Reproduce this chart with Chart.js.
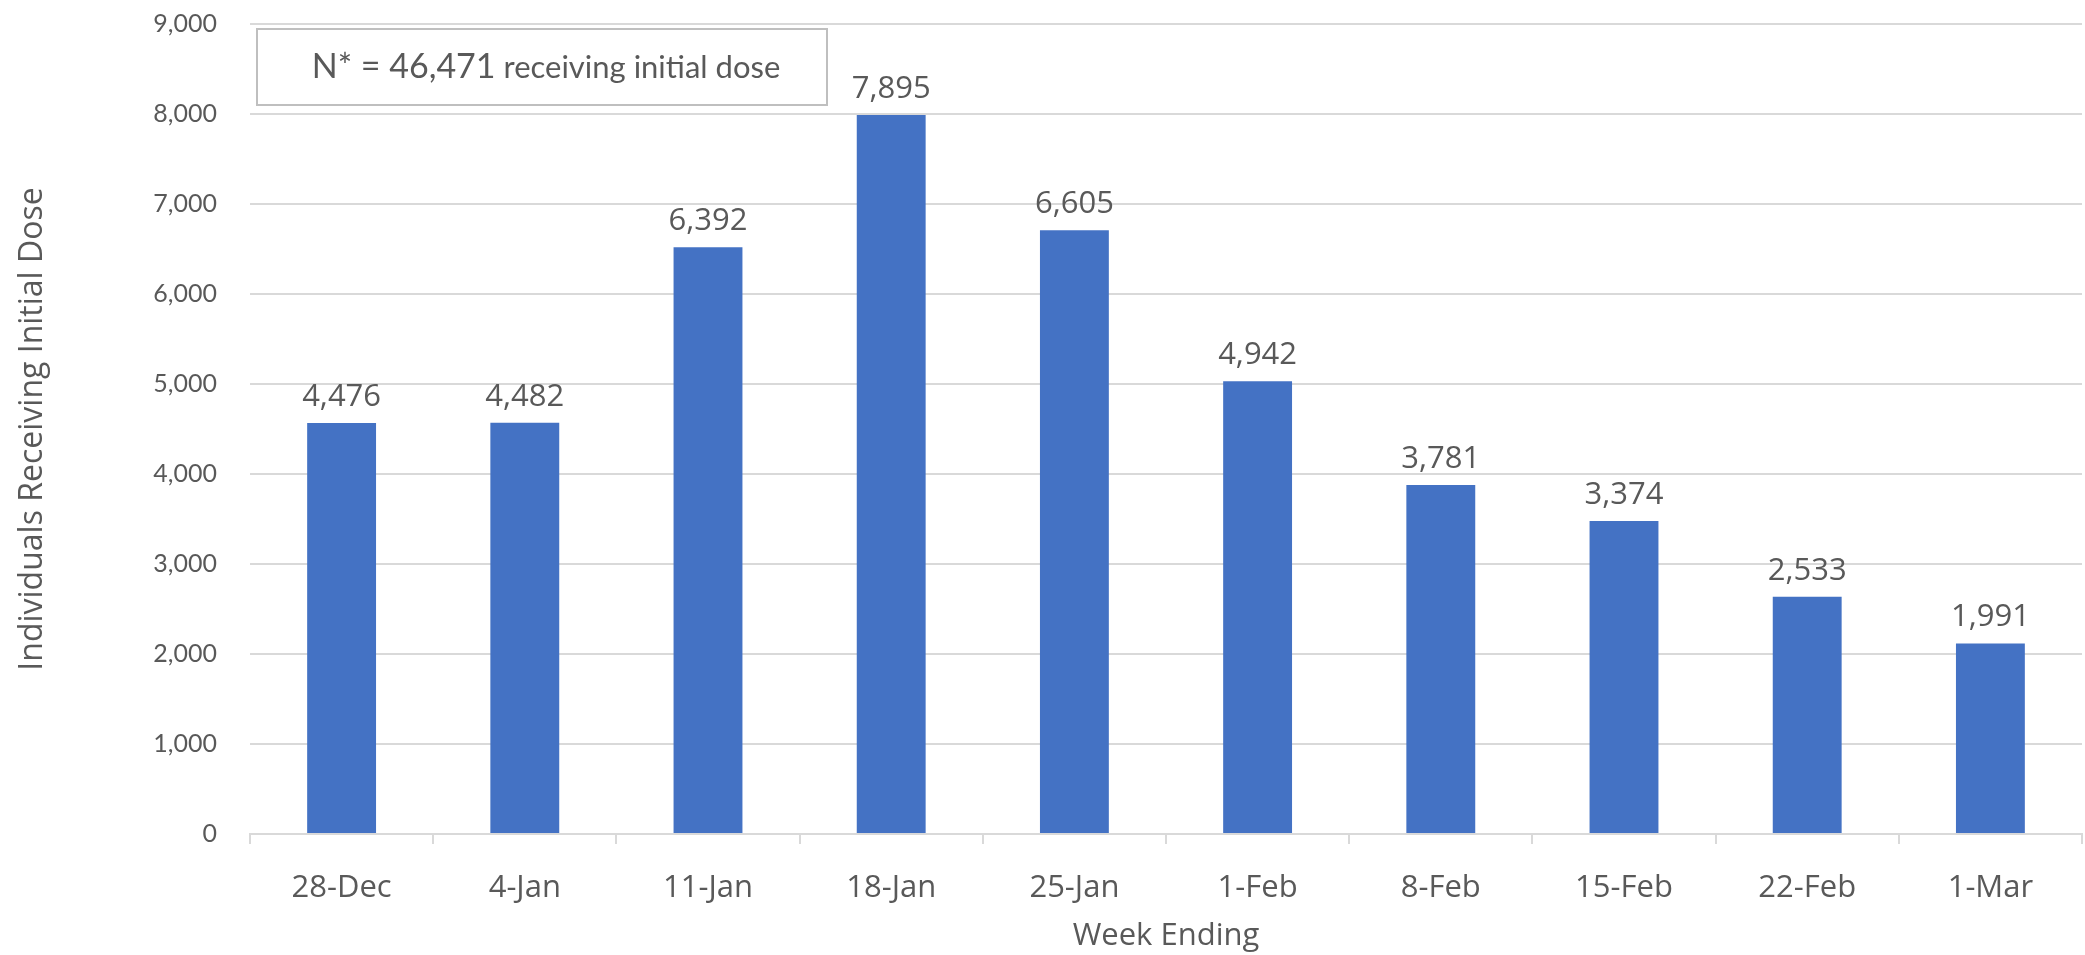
<!DOCTYPE html>
<html lang="en">
<head>
<meta charset="UTF-8">
<title>Individuals Receiving Initial Dose by Week</title>
<script src="https://cdn.jsdelivr.net/npm/chart.js"></script>
<style>
    html, body { margin: 0; padding: 0; background: #ffffff; }
    #wrap { width: 2085px; height: 955px; }
</style>
</head>
<body>
<div id="wrap"><canvas id="doseChart" width="2085" height="955"></canvas></div>

<script>
    // week ending categories
    const weeks = ['28-Dec', '4-Jan', '11-Jan', '18-Jan', '25-Jan', '1-Feb', '8-Feb', '15-Feb', '22-Feb', '1-Mar'];
    // values printed above the bars
    const doseLabels = [4476, 4482, 6392, 7895, 6605, 4942, 3781, 3374, 2533, 1991];
    // bar heights as drawn in the source (they stand a bit above the printed numbers)
    const barHeights = [4567, 4570, 6519, 7989, 6707, 5030, 3878, 3478, 2637, 2118];
    // y axis range / step
    const yMin = 0;
    const yMax = 9000;
    const yStep = 1000;
    // note box text
    const noteMain = 'N* = 46,471';
    const noteRest = ' receiving initial dose';

    const textGray = '#595959';
    const gridGray = '#d9d9d9';
    const barBlue = '#4472c4';

    // draws the number above each bar
    const barLabelPlugin = {
        id: 'barLabels',
        afterDatasetsDraw(chart) {
            const ctx = chart.ctx;
            const meta = chart.getDatasetMeta(0);
            ctx.save();
            ctx.font = '31px "Open Sans"';
            ctx.fillStyle = textGray;
            ctx.textAlign = 'center';
            ctx.textBaseline = 'alphabetic';
            meta.data.forEach((bar, i) => {
                ctx.fillText(doseLabels[i].toLocaleString('en-US'), bar.x, bar.y - 17);
            });
            ctx.restore();
        }
    };

    // the "N* = ..." box in the top left corner
    const noteBoxPlugin = {
        id: 'noteBox',
        afterDraw(chart) {
            const ctx = chart.ctx;
            const area = chart.chartArea;
            const x = area.left + 7;
            const y = area.top + 5;
            const w = 570;
            const h = 76;
            ctx.save();
            ctx.fillStyle = '#ffffff';
            ctx.fillRect(x, y, w, h);
            ctx.strokeStyle = '#bfbfbf';
            ctx.lineWidth = 2;
            ctx.strokeRect(x, y, w, h);

            ctx.fillStyle = textGray;
            ctx.textBaseline = 'middle';
            ctx.textAlign = 'left';
            ctx.font = '34px Lato';
            const w1 = ctx.measureText(noteMain).width;
            ctx.font = '31px Lato';
            const w2 = ctx.measureText(noteRest).width;
            let tx = x + (w - w1 - w2) / 2 + 4;
            ctx.font = '34px Lato';
            ctx.fillText(noteMain, tx, y + h / 2);
            ctx.font = '31px Lato';
            ctx.fillText(noteRest, tx + w1, y + h / 2 + 1);
            ctx.restore();
        }
    };

    const ctx = document.getElementById('doseChart').getContext('2d');
    const doseChart = new Chart(ctx, {
        type: 'bar',
        data: {
            labels: weeks,
            datasets: [{
                label: 'Individuals Receiving Initial Dose',
                data: barHeights,
                backgroundColor: barBlue,
                borderWidth: 0,
                categoryPercentage: 1.0,
                barPercentage: 0.376
            }]
        },
        options: {
            responsive: false,
            devicePixelRatio: 1,
            animation: false,
            layout: {
                padding: { top: 24, right: 3, left: 0, bottom: 0 }
            },
            plugins: {
                legend: { display: false },
                tooltip: { enabled: false }
            },
            scales: {
                x: {
                    z: 1,
                    grid: {
                        display: true,
                        offset: true,
                        drawOnChartArea: false,
                        tickLength: 10,
                        color: gridGray,
                        lineWidth: 2
                    },
                    border: { display: true, color: gridGray, width: 2 },
                    ticks: {
                        color: textGray,
                        font: { family: 'Open Sans', size: 31 },
                        padding: 26,
                        maxRotation: 0,
                        autoSkip: false
                    },
                    title: {
                        display: true,
                        text: 'Week Ending',
                        color: textGray,
                        font: { family: 'Open Sans', size: 31 },
                        padding: { top: 0, bottom: 0 }
                    },
                    afterFit: (scale) => { scale.height = 121; }
                },
                y: {
                    min: yMin,
                    max: yMax,
                    grid: {
                        color: gridGray,
                        lineWidth: 2,
                        drawTicks: false
                    },
                    border: { display: false },
                    ticks: {
                        stepSize: yStep,
                        color: textGray,
                        font: { family: 'Lato', size: 25 },
                        padding: 33,
                        callback: (v) => v.toLocaleString('en-US')
                    },
                    title: {
                        display: true,
                        text: 'Individuals Receiving Initial Dose',
                        color: textGray,
                        font: { family: 'Open Sans', size: 32 },
                        padding: { top: 14, bottom: 0 }
                    },
                    afterFit: (scale) => {
                        scale.width = 250;
                        // tick padding would otherwise push the plot down
                        scale.paddingTop = 0;
                        scale.paddingBottom = 0;
                    }
                }
            }
        },
        plugins: [barLabelPlugin, noteBoxPlugin]
    });
</script>
</body>
</html>
